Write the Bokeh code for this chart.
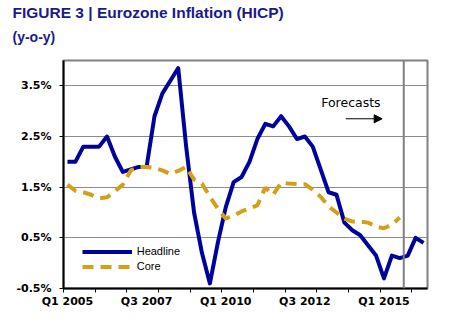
from bokeh.plotting import figure
from bokeh.models import (FixedTicker, PrintfTickFormatter, Span, Label, Arrow, NormalHead,
                          Legend, LegendItem, Title, Range1d)
from bokeh.embed import file_html
from bokeh.resources import INLINE

# ---- data ----
years = list(range(2005, 2017))
quarters = [f"Q{q} {y}" for y in years for q in (1, 2, 3, 4)][:46]   # Q1 2005 .. Q2 2016

headline = [2.0, 2.0, 2.3, 2.3, 2.3, 2.5, 2.1, 1.8, 1.85, 1.9, 1.9, 2.9,
            3.35, 3.6, 3.85, 2.3, 1.0, 0.2, -0.4, 0.4, 1.1, 1.6, 1.7, 2.0,
            2.45, 2.75, 2.7, 2.9, 2.7, 2.45, 2.5, 2.3, 1.85, 1.4, 1.35, 0.8,
            0.65, 0.55, 0.35, 0.15, -0.3, 0.15, 0.1, 0.15, 0.5, 0.4]

core = [1.55, 1.43, 1.4, 1.35, 1.28, 1.3, 1.42, 1.55, 1.83, 1.9, 1.9, 1.88,
        1.83, 1.76, 1.82, 1.9, 1.65, 1.57, 1.31, 1.08, 0.88, 0.94, 1.02, 1.08,
        1.14, 1.49, 1.35, 1.59, 1.57, 1.56, 1.56, 1.45, 1.31, 1.12, 1.0, 0.88,
        0.82, 0.82, 0.8, 0.72, 0.69, 0.76, 0.9]

y_ticks = [-0.5, 0.5, 1.5, 2.5, 3.5]
x_labels = ["Q1 2005", "Q3 2007", "Q1 2010", "Q3 2012", "Q1 2015"]
forecast_from = "Q4 2015"
title_text = "FIGURE 3 | Eurozone Inflation (HICP)"
subtitle_text = "(y-o-y)"

NAVY = "#00009C"
GOLD = "#D4A017"
TITLE_COLOR = "#1A1A8C"

x_head = [i + 0.5 for i in range(len(headline))]
x_core = [i + 0.5 for i in range(len(core))]

p = figure(width=470, height=328, output_backend="svg", toolbar_location=None,
           title=None, x_range=Range1d(0, len(quarters)), y_range=Range1d(-0.5, 4.0),
           min_border_left=63, min_border_right=43, min_border_top=60, min_border_bottom=40)

sub = Title(text=subtitle_text, align="left", offset=-51,
            text_font="Liberation Sans", text_font_size="14px",
            text_font_style="bold", text_color=TITLE_COLOR, standoff=31)
p.add_layout(sub, "above")
main = Title(text=title_text, align="left", offset=-51,
             text_font="Liberation Sans", text_font_size="15.5px",
             text_font_style="bold", text_color=TITLE_COLOR, standoff=-18)
p.add_layout(main, "above")

p.background_fill_color = "white"
p.border_fill_color = "white"
p.outline_line_color = "#808080"
p.outline_line_width = 2

# y axis
p.yaxis.ticker = FixedTicker(ticks=y_ticks)
p.yaxis.formatter = PrintfTickFormatter(format="%.1f%%")
p.yaxis.axis_line_color = "black"
p.yaxis.axis_line_width = 2
p.yaxis.major_tick_out = 4
p.yaxis.major_tick_in = 0
p.yaxis.major_tick_line_color = "black"
p.yaxis.minor_tick_line_color = None
p.yaxis.major_label_text_font = "DejaVu Sans"
p.yaxis.major_label_text_font_style = "bold"
p.yaxis.major_label_text_font_size = "11px"
p.yaxis.major_label_text_color = "black"
p.yaxis.major_label_standoff = 8

# x axis: labels at category centres, tick marks at yearly boundaries
label_pos = [quarters.index(l) + 0.5 for l in x_labels]
p.xaxis.ticker = FixedTicker(ticks=label_pos, minor_ticks=list(range(0, len(quarters), 4)))
p.xaxis.major_label_overrides = {pos: lab for pos, lab in zip(label_pos, x_labels)}
p.xaxis.axis_line_color = "black"
p.xaxis.axis_line_width = 2
p.xaxis.major_tick_out = 0
p.xaxis.major_tick_in = 0
p.xaxis.minor_tick_out = 4
p.xaxis.minor_tick_in = 0
p.xaxis.minor_tick_line_color = "black"
p.xaxis.major_label_text_font = "DejaVu Sans"
p.xaxis.major_label_text_font_style = "bold"
p.xaxis.major_label_text_font_size = "11px"
p.xaxis.major_label_text_color = "black"
p.xaxis.major_label_standoff = 2

p.xgrid.visible = False
p.ygrid.ticker = FixedTicker(ticks=y_ticks)
p.ygrid.grid_line_color = "#8c8c8c"
p.ygrid.grid_line_width = 1

# forecast divider
p.add_layout(Span(location=quarters.index(forecast_from), dimension="height",
                  line_color="#808080", line_width=2))

r1 = p.line(x_head, headline, line_color=NAVY, line_width=4, line_join="round")
r2 = p.line(x_core, core, line_color=GOLD, line_width=4, line_dash="11 7")

legend = Legend(items=[LegendItem(label="Headline", renderers=[r1]),
                       LegendItem(label="Core", renderers=[r2])],
                location=(18.7, 14.5), border_line_color=None, background_fill_alpha=0,
                glyph_width=50, glyph_height=15, label_height=15, spacing=0, padding=0,
                margin=0, label_standoff=5, label_text_font="Liberation Sans",
                label_text_font_size="11px", label_text_color="black")
p.add_layout(legend)

p.add_layout(Label(x=32.57, y=3.17, text="Forecasts", text_font="DejaVu Sans",
                   text_font_size="12.5px", text_baseline="middle", text_align="left",
                   text_color="black"))
p.add_layout(Arrow(end=NormalHead(size=8, fill_color="black", line_color="black"),
                   x_start=35.67, y_start=2.85, x_end=40.27, y_end=2.85,
                   line_width=1, line_color="black"))

open("out.html", "w").write(file_html(p, INLINE))
